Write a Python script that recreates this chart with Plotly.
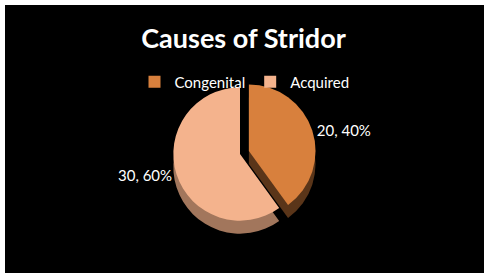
import plotly.graph_objects as go

categories = ["Congenital", "Acquired"]
values = [20, 30]
top_colors = ["#D8803D", "#F4B38D"]
side_colors = ["#5A3519", "#A2765C"]
pulls = [0.14, 0]

W, H = 487, 277
ml, mr, mt, mb = 5, 3, 5, 4
pw, ph = W - ml - mr, H - mt - mb

def fx(px):
    return (px - ml) / pw

def fy(py):
    return (H - mb - py) / ph

cx, cy, half = 240, 154, 76
depth = 13

fig = go.Figure()
fig.add_trace(go.Pie(
    labels=categories, values=values, sort=False, direction="clockwise", rotation=0,
    pull=pulls, marker=dict(colors=side_colors, line=dict(width=0)),
    textinfo="none", hoverinfo="skip", showlegend=False,
    domain=dict(x=[fx(cx - half), fx(cx + half)], y=[fy(cy + half + depth), fy(cy - half + depth)]),
))
fig.add_trace(go.Pie(
    labels=categories, values=values, sort=False, direction="clockwise", rotation=0,
    pull=pulls, marker=dict(colors=top_colors, line=dict(width=0)),
    texttemplate="%{value}, %{percent:.0%}", textposition="outside",
    outsidetextfont=dict(color="white", size=15, family="Lato"),
    domain=dict(x=[fx(cx - half), fx(cx + half)], y=[fy(cy + half), fy(cy - half)]),
))

fig.update_layout(
    width=W, height=H,
    margin=dict(l=ml, r=mr, t=mt, b=mb),
    paper_bgcolor="white",
    font=dict(family="Lato", color="white"),
    title=dict(text="<b>Causes of Stridor</b>", x=0.5, xanchor="center",
               y=1 - 39 / H, yanchor="middle", yref="container",
               font=dict(size=27, color="white", family="Lato")),
    legend=dict(orientation="h", x=0.5, xanchor="center", y=fy(82), yanchor="middle",
                itemwidth=30,
                font=dict(size=15, color="white", family="Lato"), bgcolor="rgba(0,0,0,0)"),
    shapes=[dict(type="rect", xref="paper", yref="paper", x0=0, x1=1, y0=0, y1=1,
                 fillcolor="black", line=dict(width=0), layer="below")],
)

fig.write_html("out.html")
